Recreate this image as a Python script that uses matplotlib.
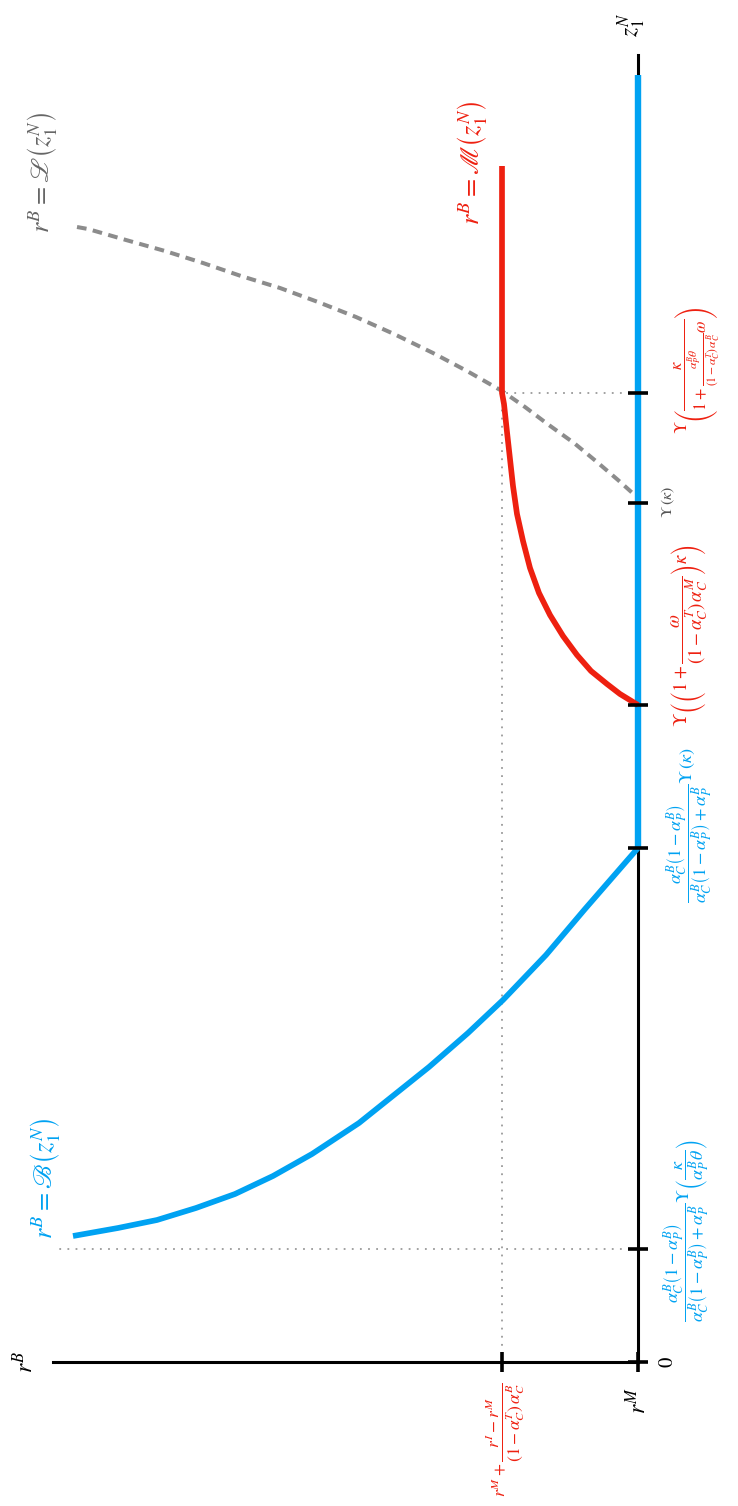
import numpy as np
import matplotlib
matplotlib.use("Agg")
import matplotlib.pyplot as plt

plt.rcParams['mathtext.fontset'] = 'stix'
plt.rcParams['font.family'] = ['STIXGeneral', 'DejaVu Sans']

# --- data (r^B on the horizontal, z_1^N on the vertical; figure is drawn rotated) ---
# blue curve r^B = B(z)
blue_r = [5.65, 5.20, 4.81, 4.42, 4.03, 3.65, 3.26, 2.79, 2.09, 1.70, 1.35, 0.92, 0.53, 0.0]
blue_z = [1.26, 1.34, 1.42, 1.54, 1.68, 1.86, 2.08, 2.39, 2.95, 3.29, 3.62, 4.07, 4.53, 5.14]
# blue segment along the z axis
blue_axis_z = [5.14, 12.87]

# red curve r^B = M(z), then flat part
red_r = [0.0, 0.18, 0.31, 0.47, 0.61, 0.75, 0.88, 0.99, 1.08, 1.15, 1.21,
         1.25, 1.28, 1.31, 1.34, 1.36, 1.36]
red_z = [6.57, 6.68, 6.78, 6.91, 7.07, 7.26, 7.47, 7.69, 7.94, 8.21, 8.48,
         8.76, 9.03, 9.30, 9.58, 9.69, 11.96]

# gray dashed r^B = L(z)
gray_r = [5.61, 5.50, 5.12, 4.73, 4.35, 3.97, 3.58, 3.20, 2.82, 2.44, 2.05,
          1.71, 1.36, 1.13, 0.905, 0.64, 0.41, 0.20, 0.0]
gray_z = [11.35, 11.33, 11.22, 11.11, 10.99, 10.86, 10.74, 10.60, 10.45, 10.28, 10.09,
          9.91, 9.71, 9.55, 9.38, 9.19, 9.00, 8.82, 8.64]

# tick positions
z_ticks = [0, 1.13, 5.14, 6.57, 8.59, 9.69]
r_ticks = [0, 1.36]
z_max = 13.07
r_max = 5.85
r_dot_end = 5.82   # dotted guide from first z tick

blue = '#00A2F2'
red = '#EE2010'
gray = '#8C8C8C'
dotc = '#9A9A9A'

fig = plt.figure(figsize=(7.38, 15.06), dpi=100)
ax = fig.add_axes([0, 0, 1, 1])
ax.set_xlim(6.38, -1.0)
ax.set_ylim(-1.44, 13.62)

# axes as spines through the origin
for s in ['top', 'right']:
    ax.spines[s].set_visible(False)
ax.spines['left'].set_position(('data', 0))
ax.spines['bottom'].set_position(('data', 0))
ax.spines['left'].set_bounds(0, z_max)
ax.spines['bottom'].set_bounds(0, r_max)
for s in ['left', 'bottom']:
    ax.spines[s].set_linewidth(2.2)
ax.set_yticks(z_ticks)
ax.set_xticks(r_ticks)
ax.tick_params(direction='inout', length=14.4, width=2.6, color='black',
               labelleft=False, labelbottom=False)
ax.yaxis.set_zorder(4)
ax.xaxis.set_zorder(4)
ax.patch.set_visible(False)

# dotted guides
dot = dict(color=dotc, lw=1.3, linestyle=(0, (1, 3.5)), zorder=1)
ax.plot([0, r_dot_end], [z_ticks[1], z_ticks[1]], **dot)
ax.plot([r_ticks[1], r_ticks[1]], [0, z_ticks[5]], **dot)
ax.plot([0, r_ticks[1]], [z_ticks[5], z_ticks[5]], **dot)

# curves
ax.plot(gray_r, gray_z, color=gray, lw=2.9, linestyle=(0, (2.4, 1.6)), zorder=2)
ax.plot(blue_r, blue_z, color=blue, lw=4.1, solid_capstyle='butt',
        solid_joinstyle='round', zorder=3)
ax.plot([0, 0], blue_axis_z, color=blue, lw=4.6, solid_capstyle='butt', zorder=3)
ax.plot(red_r, red_z, color=red, lw=4.1, solid_capstyle='butt',
        solid_joinstyle='round', zorder=3)

# labels (rotated with the figure)
t = dict(rotation=90, ha='center', va='center')
ax.text(0.06, 13.37, r'$z_1^N$', fontsize=17, **t)
ax.text(6.13, 0.0, r'$r^B$', fontsize=17, **t)
ax.text(0.0, -0.38, r'$r^M$', fontsize=17, **t)
ax.text(-0.30, 0.0, r'$0$', fontsize=15, **t)

ax.text(1.33, -0.78, r'$r^M+\dfrac{r^I-r^M}{(1-\alpha_C^T)\,\alpha_C^B}$',
        fontsize=12.5, color=red, **t)

ax.text(-0.49, 1.32,
        r'$\dfrac{\alpha_C^B\left(1-\alpha_P^B\right)}{\alpha_C^B\left(1-\alpha_P^B\right)+\alpha_P^B}'
        r'\Upsilon\left(\dfrac{\kappa}{\alpha_P^B\theta}\right)$',
        fontsize=13, color=blue, **t)
ax.text(-0.52, 5.37,
        r'$\dfrac{\alpha_C^B\left(1-\alpha_P^B\right)}{\alpha_C^B\left(1-\alpha_P^B\right)+\alpha_P^B}'
        r'\Upsilon\,(\kappa)$',
        fontsize=13, color=blue, **t)
ax.text(-0.52, 7.26,
        r'$\Upsilon\left(\left(1+\dfrac{\omega}{(1-\alpha_C^T)\,\alpha_C^M}\right)\kappa\right)$',
        fontsize=13.5, color=red, **t)
ax.text(-0.30, 8.60, r'$\Upsilon\,(\kappa)$', fontsize=11.5, color='#555555', **t)
ax.text(-0.59, 9.92,
        r'$\Upsilon\left(\dfrac{\kappa}{1+\frac{\alpha_P^B\theta}{(1-\alpha_C^T)\,\alpha_C^B}\omega}\right)$',
        fontsize=12, color=red, **t)

ax.text(5.93, 1.84, r'$r^B=\mathscr{B}\left(z_1^N\right)$', fontsize=19, color=blue, **t)
ax.text(5.96, 11.90, r'$r^B=\mathscr{L}\left(z_1^N\right)$', fontsize=19, color='#666666', **t)
ax.text(1.66, 11.99, r'$r^B=\mathscr{M}\left(z_1^N\right)$', fontsize=19, color=red, **t)

fig.savefig('out.png', dpi=100)
